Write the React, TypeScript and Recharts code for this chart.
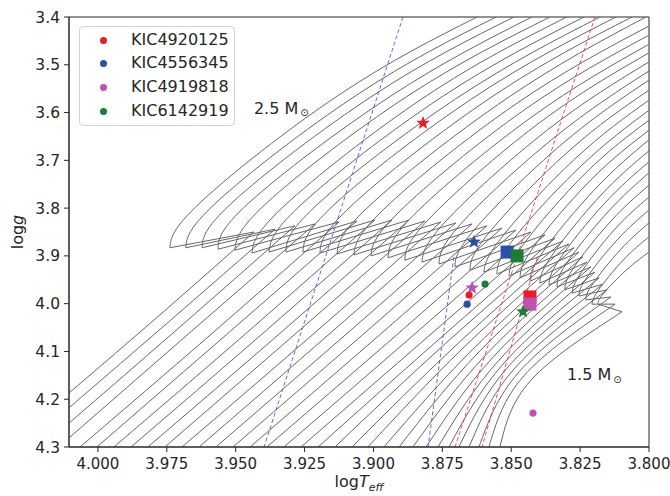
import React from "react";
import { ComposedChart, Line, Scatter, XAxis, YAxis, ReferenceArea } from "recharts";

type Pt = [number, number];

// evolutionary tracks: [log Teff, log g]
const msStart: Pt[] = [
  [4.0105, 4.187], [4.0105, 4.218], [4.0105, 4.25], [4.0105, 4.281], [4.0065, 4.3], [4.0004, 4.3],
  [3.9942, 4.3], [3.988, 4.3], [3.9819, 4.3], [3.9757, 4.3], [3.9695, 4.3], [3.9633, 4.3],
  [3.9572, 4.3], [3.951, 4.3], [3.9448, 4.3], [3.9387, 4.3], [3.9325, 4.3], [3.9263, 4.3],
  [3.9201, 4.3], [3.914, 4.3], [3.9078, 4.3], [3.902, 4.3], [3.8962, 4.3], [3.8907, 4.3],
  [3.8857, 4.3], [3.8809, 4.3], [3.8766, 4.3], [3.8726, 4.3], [3.869, 4.3], [3.8653, 4.3],
  [3.8617, 4.3], [3.8581, 4.3], [3.8541, 4.3],
];
const msMid: Pt[] = [
  [3.9768, 4.02], [3.9731, 4.032], [3.9695, 4.045], [3.9659, 4.057], [3.9593, 4.066], [3.9532, 4.064],
  [3.9466, 4.064], [3.9405, 4.064], [3.9343, 4.064], [3.9285, 4.064], [3.9223, 4.066], [3.9165, 4.066],
  [3.9107, 4.068], [3.9049, 4.07], [3.8991, 4.072], [3.8933, 4.074], [3.8875, 4.076], [3.882, 4.078],
  [3.8777, 4.082], [3.874, 4.084], [3.8704, 4.089], [3.8675, 4.093], [3.8642, 4.097], [3.8617, 4.101],
  [3.8592, 4.107], [3.8566, 4.112], [3.8544, 4.118], [3.8526, 4.124], [3.8508, 4.13], [3.849, 4.137],
  [3.8472, 4.143], [3.8454, 4.151], [3.8428, 4.16],
];
const tams: Pt[] = [
  [3.9434, 3.85], [3.9357, 3.844], [3.9285, 3.837], [3.9212, 3.833], [3.9125, 3.829], [3.906, 3.827],
  [3.8995, 3.825], [3.8933, 3.825], [3.8871, 3.825], [3.8813, 3.827], [3.8755, 3.829], [3.8701, 3.831],
  [3.8642, 3.833], [3.8588, 3.837], [3.8534, 3.842], [3.8483, 3.846], [3.8428, 3.85], [3.8377, 3.856],
  [3.8341, 3.863], [3.8312, 3.869], [3.829, 3.875], [3.8272, 3.883], [3.8254, 3.892], [3.824, 3.902],
  [3.8225, 3.913], [3.8211, 3.923], [3.8196, 3.934], [3.8181, 3.946], [3.8167, 3.959], [3.8152, 3.971],
  [3.8138, 3.986], [3.8123, 4.001], [3.8098, 4.017],
];
const hookEnd: Pt[] = [
  [3.9739, 3.883], [3.9681, 3.883], [3.9622, 3.883], [3.9564, 3.886], [3.9503, 3.888], [3.9441, 3.894],
  [3.9379, 3.892], [3.9318, 3.892], [3.9256, 3.892], [3.9194, 3.894], [3.9132, 3.896], [3.9071, 3.898],
  [3.9009, 3.9], [3.8947, 3.904], [3.8886, 3.909], [3.8824, 3.913], [3.8762, 3.917], [3.8704, 3.923],
  [3.865, 3.93], [3.8599, 3.934], [3.8552, 3.938], [3.8508, 3.942], [3.8468, 3.946], [3.8432, 3.953],
  [3.8396, 3.957], [3.8363, 3.961], [3.8334, 3.965], [3.8305, 3.971], [3.8279, 3.978], [3.8254, 3.984],
  [3.8229, 3.992], [3.8207, 4.001], [3.8185, 4.001],
];
const sgLow: Pt[] = [
  [3.9626, 3.787], [3.9568, 3.787], [3.951, 3.787], [3.9452, 3.789], [3.9387, 3.789], [3.9325, 3.796],
  [3.9263, 3.793], [3.9205, 3.793], [3.9143, 3.793], [3.9082, 3.796], [3.902, 3.798], [3.8962, 3.802],
  [3.8907, 3.808], [3.8853, 3.814], [3.8799, 3.823], [3.874, 3.829], [3.8686, 3.835], [3.8635, 3.846],
  [3.8584, 3.854], [3.8537, 3.863], [3.8497, 3.869], [3.8457, 3.877], [3.8421, 3.883], [3.8388, 3.894],
  [3.8356, 3.902], [3.8327, 3.909], [3.8301, 3.917], [3.8276, 3.927], [3.825, 3.938], [3.8229, 3.948],
  [3.8207, 3.961], [3.8185, 3.973], [3.8167, 3.98],
];
const sgHigh: Pt[] = [
  [3.9125, 3.563], [3.906, 3.563], [3.8998, 3.563], [3.8936, 3.565], [3.8875, 3.565], [3.8813, 3.567],
  [3.8751, 3.567], [3.869, 3.567], [3.8632, 3.567], [3.857, 3.567], [3.8515, 3.57], [3.8483, 3.582],
  [3.8454, 3.595], [3.8425, 3.609], [3.8399, 3.622], [3.837, 3.637], [3.8341, 3.651], [3.8316, 3.666],
  [3.829, 3.68], [3.8269, 3.697], [3.8247, 3.712], [3.8229, 3.726], [3.8211, 3.741], [3.8192, 3.758],
  [3.8178, 3.775], [3.8163, 3.791], [3.8149, 3.808], [3.8138, 3.827], [3.8127, 3.846], [3.8113, 3.865],
  [3.8102, 3.886], [3.8094, 3.909], [3.8083, 3.93],
];
const sgExit: Pt[] = [
  [3.8624, 3.4], [3.8555, 3.4], [3.849, 3.4], [3.8425, 3.4], [3.8359, 3.4], [3.8298, 3.4],
  [3.8236, 3.4], [3.8178, 3.4], [3.812, 3.4], [3.8062, 3.4], [3.8011, 3.4], [3.8, 3.419],
  [3.8, 3.438], [3.8, 3.457], [3.8, 3.475], [3.8, 3.494], [3.8, 3.513], [3.8, 3.532],
  [3.8, 3.553], [3.8, 3.574], [3.8, 3.595], [3.8, 3.616], [3.8, 3.637], [3.8, 3.657],
  [3.8, 3.68], [3.8, 3.703], [3.8, 3.726], [3.8, 3.752], [3.8, 3.777], [3.8, 3.804],
  [3.8, 3.831], [3.8, 3.86], [3.8, 3.892],
];

// instability strip edges (dashed)
const blueEdges: Pt[][] = [
  [[3.8893, 3.4], [3.9397, 4.3]],
  [[3.8708, 3.902], [3.8802, 4.3]],
];
const redEdges: Pt[][] = [
  [[3.8196, 3.4], [3.8704, 4.3]],
  [[3.8406, 3.902], [3.8606, 4.3]],
];

const STARS = ["KIC4920125", "KIC4556345", "KIC4919818", "KIC6142919"];
const COLORS = ["#ec1c24", "#2c4ea8", "#c150b4", "#1a7d35"];
const starMarks: Pt[] = [[3.882, 3.622], [3.8635, 3.871], [3.8642, 3.967], [3.8457, 4.017]];
const squareMarks: Pt[] = [[3.8432, 3.986], [3.8515, 3.892], [3.8432, 4.001], [3.8479, 3.9]];
const circleMarks: Pt[] = [[3.8653, 3.982], [3.866, 4.001], [3.8421, 4.229], [3.8595, 3.959]];

const massLabels = [
  { t: 3.9434, g: 3.5905, text: "2.5" },
  { t: 3.8298, g: 4.149, text: "1.5" },
];

const xTicks = [4.0, 3.975, 3.95, 3.925, 3.9, 3.875, 3.85, 3.825, 3.8];
const yTicks = [3.4, 3.5, 3.6, 3.7, 3.8, 3.9, 4.0, 4.1, 4.2, 4.3];

const FONT = "'DejaVu Sans', 'Liberation Sans', sans-serif";
const TRACK = "#666666";
const INK = "#262626";

const toRow = ([t, g]: Pt) => ({ t, g });

const tracks = msStart.map((s, i) => ({
  ms: [s, msMid[i], tams[i]].map(toRow),
  hook: [tams[i], hookEnd[i]].map(toRow),
  sg: [hookEnd[i], sgLow[i], sgHigh[i], sgExit[i]].map(toRow),
}));

function starPoints(cx: number, cy: number, R: number, r: number) {
  const pts: string[] = [];
  for (let k = 0; k < 10; k++) {
    const a = -Math.PI / 2 + (k * Math.PI) / 5;
    const rad = k % 2 === 0 ? R : r;
    pts.push(`${cx + rad * Math.cos(a)},${cy + rad * Math.sin(a)}`);
  }
  return pts.join(" ");
}

const StarShape = (p: any) => <polygon points={starPoints(p.cx, p.cy, 7.2, 3)} fill={p.fill} />;
const SquareShape = (p: any) => (
  <rect x={p.cx - 6.5} y={p.cy - 6.5} width={13} height={13} fill={p.fill} />
);
const DotShape = (p: any) => <circle cx={p.cx} cy={p.cy} r={3.6} fill={p.fill} />;

const MassLabel = (p: any) => (
  <text x={p.cx} y={p.cy} fontSize={16} fill={INK} fontFamily={FONT} dominantBaseline="central">
    {p.payload.text} M
    <tspan fontSize={10} dx={2} dy={4}>
      ⊙
    </tspan>
  </text>
);

export default function App() {
  return (
    <div style={{ position: "fixed", left: 0, top: 0, width: 670, height: 496, overflow: "hidden", fontFamily: FONT, background: "#fff" }}>
      <style>{"html, body { margin: 0; overflow: hidden; }"}</style>
      <ComposedChart width={670} height={496} margin={{ top: 17, right: 21, bottom: 0, left: 0 }}>
        <XAxis
          dataKey="t"
          type="number"
          domain={[3.8, 4.0105]}
          reversed
          allowDataOverflow
          ticks={xTicks}
          interval={0}
          tickFormatter={(v: number) => v.toFixed(3)}
          height={49}
          tickSize={5}
          tickMargin={6}
          tick={{ fontSize: 15, fill: INK, fontFamily: FONT }}
          axisLine={{ stroke: INK }}
          tickLine={{ stroke: INK }}
        />
        <YAxis
          dataKey="g"
          type="number"
          domain={[3.4, 4.3]}
          reversed
          allowDataOverflow
          ticks={yTicks}
          interval={0}
          tickFormatter={(v: number) => v.toFixed(1)}
          width={69}
          tickSize={5}
          tickMargin={4}
          tick={{ fontSize: 15.5, fill: INK, fontFamily: FONT }}
          axisLine={{ stroke: INK }}
          tickLine={{ stroke: INK }}
        />
        <ReferenceArea x1={3.8} x2={4.0105} y1={3.4} y2={4.3} fill="none" stroke={INK} strokeWidth={1} />
        {tracks.map((tr, i) => (
          <React.Fragment key={i}>
            <Line data={tr.ms} dataKey="g" type="natural" stroke={TRACK} strokeWidth={1} dot={false} isAnimationActive={false} />
            <Line data={tr.hook} dataKey="g" type="linear" stroke={TRACK} strokeWidth={1} dot={false} isAnimationActive={false} />
            <Line data={tr.sg} dataKey="g" type="natural" stroke={TRACK} strokeWidth={1} dot={false} isAnimationActive={false} />
          </React.Fragment>
        ))}
        {blueEdges.map((e, i) => (
          <Line key={"b" + i} data={e.map(toRow)} dataKey="g" type="linear" stroke="#4a5fd0" strokeWidth={0.9}
            strokeDasharray="4 2.5" dot={false} isAnimationActive={false} />
        ))}
        {redEdges.map((e, i) => (
          <Line key={"r" + i} data={e.map(toRow)} dataKey="g" type="linear" stroke="#f23a3a" strokeWidth={0.9}
            strokeDasharray="4 2.5" dot={false} isAnimationActive={false} />
        ))}
        {STARS.map((n, i) => (
          <Scatter key={"sq" + n} data={[toRow(squareMarks[i])]} fill={COLORS[i]} shape={SquareShape} isAnimationActive={false} />
        ))}
        {STARS.map((n, i) => (
          <Scatter key={"st" + n} data={[toRow(starMarks[i])]} fill={COLORS[i]} shape={StarShape} isAnimationActive={false} />
        ))}
        {STARS.map((n, i) => (
          <Scatter key={"ci" + n} data={[toRow(circleMarks[i])]} fill={COLORS[i]} shape={DotShape} isAnimationActive={false} />
        ))}
        <Scatter data={massLabels} shape={MassLabel} isAnimationActive={false} />
      </ComposedChart>

      <div
        style={{
          position: "absolute", left: 79, top: 26, width: 154, height: 98,
          border: "1px solid #d2d2d2", borderRadius: 4, background: "rgba(255,255,255,0.85)",
        }}
      >
        {STARS.map((n, i) => (
          <div key={n} style={{ position: "relative", height: 23.7, marginTop: i === 0 ? 1 : 0 }}>
            <span style={{ position: "absolute", left: 20, top: 8.5, width: 7, height: 7, borderRadius: "50%", background: COLORS[i] }} />
            <span style={{ position: "absolute", left: 51, top: 1.5, fontSize: 16, lineHeight: "19px", color: INK }}>{n}</span>
          </div>
        ))}
      </div>

      <div style={{ position: "absolute", left: 69, width: 580, top: 472, textAlign: "center", fontSize: 16, lineHeight: "20px", color: INK }}>
        log<i>T</i>
        <i style={{ fontSize: 11, position: "relative", top: 4 }}>eff</i>
      </div>
      <div
        style={{
          position: "absolute", left: 18, top: 232, transform: "translate(-50%, -50%) rotate(-90deg)",
          fontSize: 16, lineHeight: "20px", color: INK, whiteSpace: "nowrap",
        }}
      >
        log<i>g</i>
      </div>
    </div>
  );
}
